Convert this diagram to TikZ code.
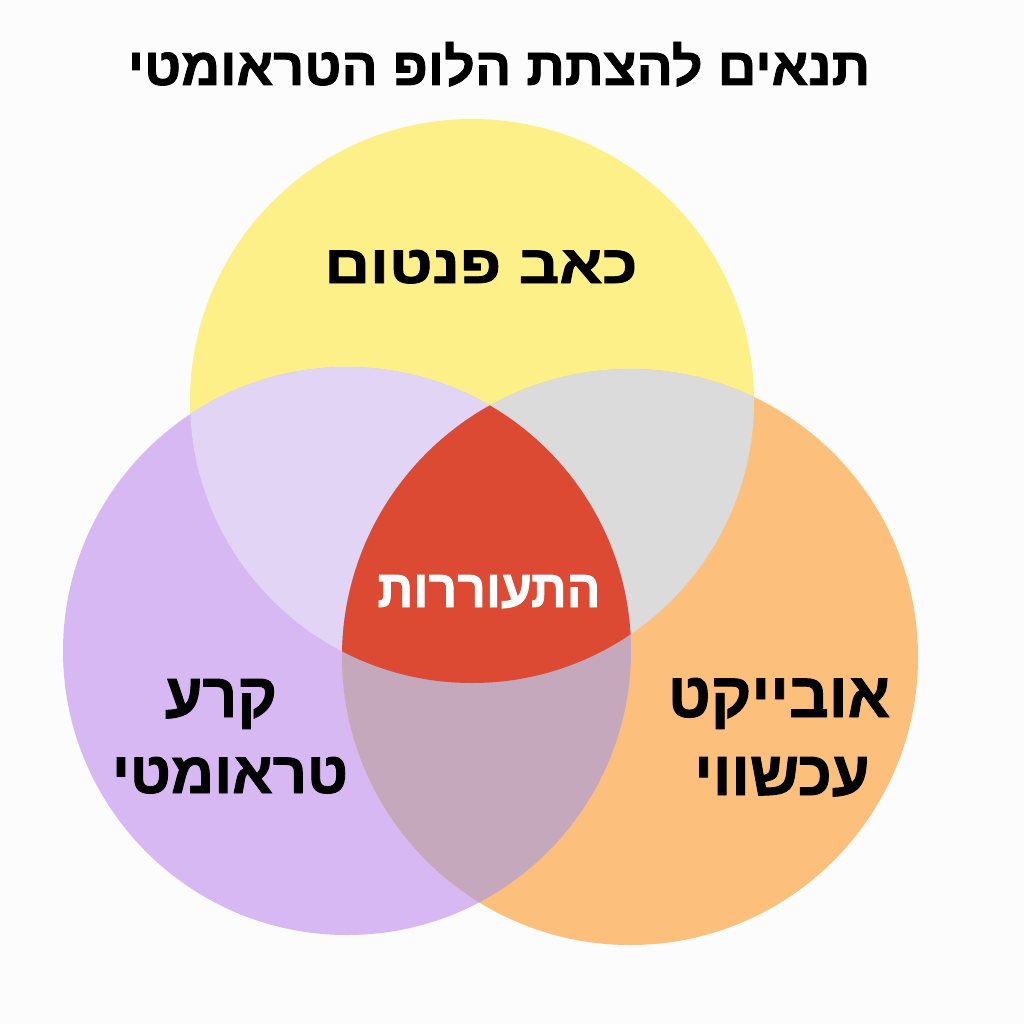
\documentclass[tikz,border=0pt]{standalone}
\usepackage{fontspec}
\usepackage{graphicx}
\TeXXeTstate=1
\newfontfamily\heb[Script=Hebrew, BoldFeatures={FakeBold=1.5}]{Liberation Sans}
\definecolor{bgc}{HTML}{FCFCFC}
\definecolor{yel}{HTML}{FEF088}
\definecolor{pur}{HTML}{D7B8F3}
\definecolor{org}{HTML}{FDC07C}
\definecolor{lav}{HTML}{E2D4F4}
\definecolor{gry}{HTML}{DBDBDB}
\definecolor{mauve}{HTML}{C5A8BB}
\definecolor{core}{HTML}{DC4A33}
\newcommand{\hebfit}[3]{\resizebox{#1}{#2}{\heb\bfseries #3}}
\tikzset{
  lab/.style={inner sep=0pt, anchor=base, text=black},
  corelab/.style={inner sep=0pt, anchor=base, text=white}
}
\begin{document}
\begin{tikzpicture}[x=1pt,y=1pt]
\useasboundingbox (0,0) rectangle (1024,-1024);
\fill[bgc] (0,0) rectangle (1024,-1024);
\coordinate (Y) at (472,-401);
\coordinate (P) at (347,-651);
\coordinate (O) at (630,-657);
\def\rY{282pt}\def\rP{284pt}\def\rO{288pt}
\fill[yel] (Y) circle[radius=\rY];
\fill[pur] (P) circle[radius=\rP];
\fill[org] (O) circle[radius=\rO];
\begin{scope}\clip (Y) circle[radius=\rY]; \fill[lav] (P) circle[radius=\rP];\end{scope}
\begin{scope}\clip (Y) circle[radius=\rY]; \fill[gry] (O) circle[radius=\rO];\end{scope}
\begin{scope}\clip (P) circle[radius=\rP]; \fill[mauve] (O) circle[radius=\rO];\end{scope}
\begin{scope}\clip (Y) circle[radius=\rY]; \clip (P) circle[radius=\rP]; \fill[core] (O) circle[radius=\rO];\end{scope}
\node[lab] (title) at (499,-85) {\hebfit{742pt}{43pt}{\beginR תנאים להצתת הלופ הטראומטי\endR}};
\node[lab] (phantom) at (481,-283) {\hebfit{313pt}{33pt}{\beginR כאב פנטום\endR}};
\node[corelab] (trigger) at (489,-607) {\hebfit{223pt}{32pt}{\beginR התעוררות\endR}};
\node[lab] (rupture1) at (221,-717) {\hebfit{112pt}{38pt}{\beginR קרע\endR}};
\node[lab] (rupture2) at (230,-793) {\hebfit{236pt}{36pt}{\beginR טראומטי\endR}};
\node[lab] (object1) at (779,-717) {\hebfit{222pt}{39pt}{\beginR אובייקט\endR}};
\node[lab] (object2) at (782,-795) {\hebfit{175pt}{38pt}{\beginR עכשווי\endR}};
\end{tikzpicture}
\end{document}
